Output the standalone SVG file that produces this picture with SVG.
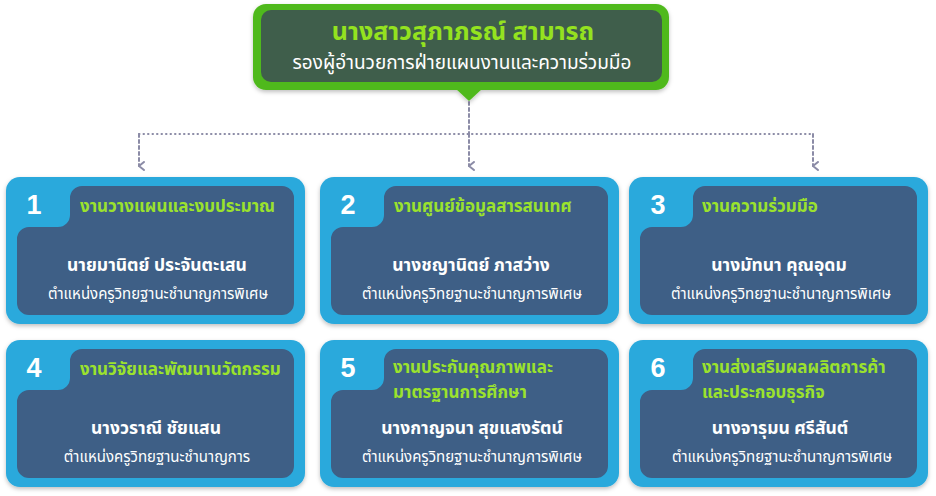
<svg xmlns="http://www.w3.org/2000/svg" width="936" height="496" viewBox="0 0 936 496">
<defs>
<style>
.th{font-family:"Noto Sans Thai","Noto Sans","DejaVu Sans",sans-serif}
.num{font-family:"Liberation Sans",Arial,sans-serif;font-weight:bold;font-size:27px;fill:#ffffff;text-anchor:middle}
.ttl{font-weight:bold;font-size:17px;fill:#9be22d}
.ttl2{font-size:17px}
.nm{font-weight:bold;font-size:17.5px;fill:#ffffff;text-anchor:middle}
.pos{font-size:15px;fill:#ffffff;text-anchor:middle}
.outer{fill:#2aa9dc}
.inner{fill:#3e5f86}
.conn{fill:none;stroke:#8b8ba6;stroke-width:2;stroke-linecap:round}
</style>
<filter id="sh" x="-10%" y="-10%" width="120%" height="130%">
<feDropShadow dx="0" dy="2" stdDeviation="2" flood-color="#000" flood-opacity="0.25"/>
</filter>
<marker id="chev" viewBox="0 0 10 8" refX="5" refY="6" markerWidth="10" markerHeight="8" markerUnits="userSpaceOnUse" orient="auto-start-reverse">
<path d="M1,1 L5,6 L9,1" fill="none" stroke="#8b8ba6" stroke-width="2" stroke-linecap="round" stroke-linejoin="round"/>
</marker>
</defs>
<rect width="936" height="496" fill="#ffffff"/>

<g id="connectors">
<path class="conn" d="M469,102 V134" stroke-dasharray="3 3"/>
<path class="conn" d="M139,134 H813" stroke-dasharray="0.5 4"/>
<path class="conn" d="M139,134 V166" stroke-dasharray="3 3" marker-end="url(#chev)"/>
<path class="conn" d="M469,134 V166" stroke-dasharray="3 3" marker-end="url(#chev)"/>
<path class="conn" d="M813,134 V166" stroke-dasharray="3 3" marker-end="url(#chev)"/>
</g>

<g id="head">
<g filter="url(#sh)">
<rect x="253" y="4" width="416" height="86" rx="13" fill="#4fb91d"/>
<path d="M456,89 L469,101 L482,89 Z" fill="#4fb91d"/>
</g>
<rect x="261" y="10" width="401" height="72" rx="10" fill="#3f5e4b"/>
<text class="th" x="463" y="40" text-anchor="middle" font-size="25" font-weight="bold" fill="#94e21f">นางสาวสุภาภรณ์  สามารถ</text>
<text class="th" x="462" y="69" text-anchor="middle" font-size="19" fill="#ffffff">รองผู้อำนวยการฝ่ายแผนงานและความร่วมมือ</text>
</g>

<g id="card1">
<rect class="outer" x="6" y="177" width="299" height="147" rx="14" filter="url(#sh)"/>
<path class="inner" d="M82,186 H282 A12 12 0 0 1 294,198 V303 A12 12 0 0 1 282,315 H29 A12 12 0 0 1 17,303 V239 A12 12 0 0 1 29,227 H58 A12 12 0 0 0 70,215 V198 A12 12 0 0 1 82,186 Z"/>
<text class="num" x="34" y="214">1</text>
<text class="th ttl" x="80" y="212">งานวางแผนและงบประมาณ</text>
<text class="th nm" x="157" y="271">นายมานิตย์  ประจันตะเสน</text>
<text class="th pos" x="158" y="299">ตำแหน่งครูวิทยฐานะชำนาญการพิเศษ</text>
</g>

<g id="card2">
<rect class="outer" x="320" y="177" width="299" height="147" rx="14" filter="url(#sh)"/>
<path class="inner" d="M396,186 H596 A12 12 0 0 1 608,198 V303 A12 12 0 0 1 596,315 H343 A12 12 0 0 1 331,303 V239 A12 12 0 0 1 343,227 H372 A12 12 0 0 0 384,215 V198 A12 12 0 0 1 396,186 Z"/>
<text class="num" x="348" y="214">2</text>
<text class="th ttl" x="394" y="212">งานศูนย์ข้อมูลสารสนเทศ</text>
<text class="th nm" x="471" y="271">นางชญานิตย์ ภาสว่าง</text>
<text class="th pos" x="472" y="299">ตำแหน่งครูวิทยฐานะชำนาญการพิเศษ</text>
</g>

<g id="card3">
<rect class="outer" x="629" y="177" width="299" height="147" rx="14" filter="url(#sh)"/>
<path class="inner" d="M705,186 H905 A12 12 0 0 1 917,198 V303 A12 12 0 0 1 905,315 H652 A12 12 0 0 1 640,303 V239 A12 12 0 0 1 652,227 H681 A12 12 0 0 0 693,215 V198 A12 12 0 0 1 705,186 Z"/>
<text class="num" x="658" y="214">3</text>
<text class="th ttl" x="702" y="212">งานความร่วมมือ</text>
<text class="th nm" x="779" y="271">นางมัทนา  คุณอุดม</text>
<text class="th pos" x="781" y="299">ตำแหน่งครูวิทยฐานะชำนาญการพิเศษ</text>
</g>

<g id="card4">
<rect class="outer" x="6" y="340" width="299" height="147" rx="14" filter="url(#sh)"/>
<path class="inner" d="M82,349 H282 A12 12 0 0 1 294,361 V466 A12 12 0 0 1 282,478 H29 A12 12 0 0 1 17,466 V402 A12 12 0 0 1 29,390 H58 A12 12 0 0 0 70,378 V361 A12 12 0 0 1 82,349 Z"/>
<text class="num" x="34" y="377">4</text>
<text class="th ttl" x="80" y="375">งานวิจัยและพัฒนานวัตกรรม</text>
<text class="th nm" x="156" y="434">นางวราณี ชัยแสน</text>
<text class="th pos" x="157" y="462">ตำแหน่งครูวิทยฐานะชำนาญการ</text>
</g>

<g id="card5">
<rect class="outer" x="320" y="340" width="299" height="147" rx="14" filter="url(#sh)"/>
<path class="inner" d="M396,349 H596 A12 12 0 0 1 608,361 V466 A12 12 0 0 1 596,478 H343 A12 12 0 0 1 331,466 V402 A12 12 0 0 1 343,390 H372 A12 12 0 0 0 384,378 V361 A12 12 0 0 1 396,349 Z"/>
<text class="num" x="348" y="377">5</text>
<text class="th ttl ttl2" x="393" y="373">งานประกันคุณภาพและ<tspan x="393" dy="25">มาตรฐานการศึกษา</tspan></text>
<text class="th nm" x="472" y="434">นางกาญจนา สุขแสงรัตน์</text>
<text class="th pos" x="472" y="462">ตำแหน่งครูวิทยฐานะชำนาญการพิเศษ</text>
</g>

<g id="card6">
<rect class="outer" x="629" y="340" width="299" height="147" rx="14" filter="url(#sh)"/>
<path class="inner" d="M705,349 H905 A12 12 0 0 1 917,361 V466 A12 12 0 0 1 905,478 H652 A12 12 0 0 1 640,466 V402 A12 12 0 0 1 652,390 H681 A12 12 0 0 0 693,378 V361 A12 12 0 0 1 705,349 Z"/>
<text class="num" x="658" y="377">6</text>
<text class="th ttl ttl2" x="702" y="373">งานส่งเสริมผลผลิตการค้า<tspan x="702" dy="25">และประกอบธุรกิจ</tspan></text>
<text class="th nm" x="780" y="434">นางจารุมน ศรีสันต์</text>
<text class="th pos" x="782" y="462">ตำแหน่งครูวิทยฐานะชำนาญการพิเศษ</text>
</g>
</svg>
